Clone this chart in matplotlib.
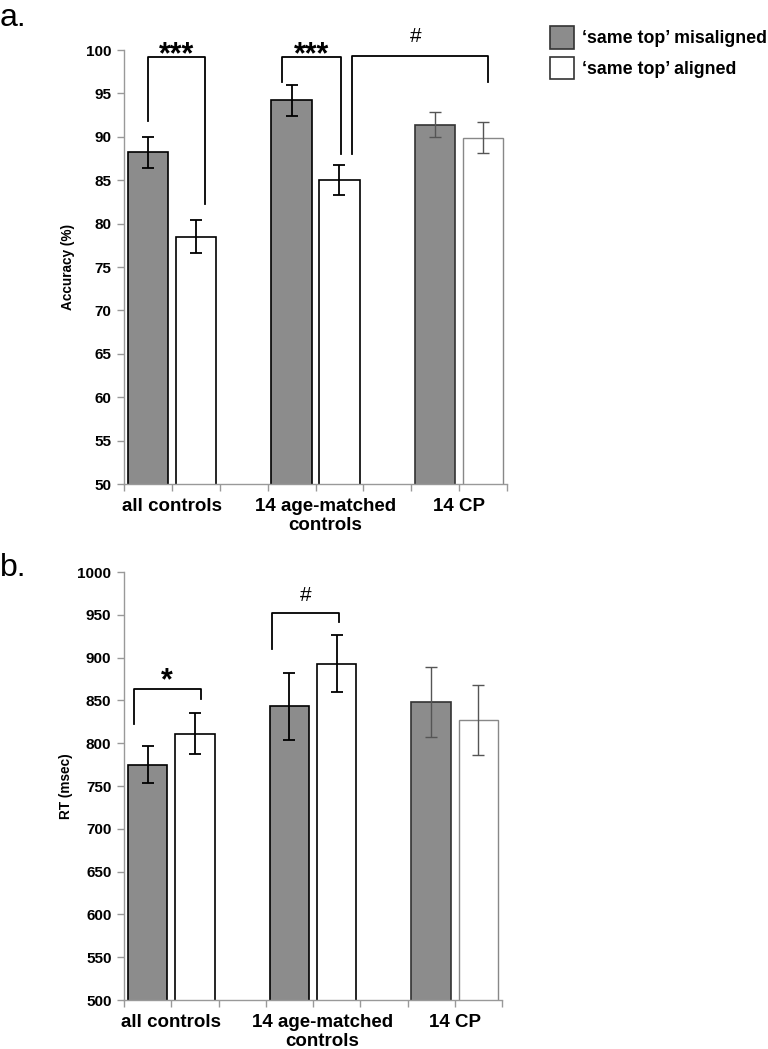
import matplotlib.pyplot as plt

plt.rcParams['font.family'] = ['Liberation Sans', 'DejaVu Sans']

groups = ['all controls', '14 age-matched\ncontrols', '14 CP']
legend_labels = ['\u2018same top\u2019 misaligned', '\u2018same top\u2019 aligned']

acc_mis = [88.2, 94.2, 91.4]
acc_mis_err = [1.75, 1.8, 1.4]
acc_ali = [78.5, 85.0, 89.9]
acc_ali_err = [1.9, 1.75, 1.75]

rt_mis = [775, 843, 848]
rt_mis_err = [22, 39, 41]
rt_ali = [811, 893, 827]
rt_ali_err = [24, 33, 41]

GREY = '#8c8c8c'
W = 768 / 100
H = 1049 / 100

fig = plt.figure(figsize=(W, H), dpi=100)


def px_axes(left, top, right, bottom):
    return fig.add_axes([left / 768, 1 - bottom / 1049, (right - left) / 768, (bottom - top) / 1049])


def draw_panel(ax, mis, mis_err, ali, ali_err, ylim, step):
    for i in range(3):
        xm = 3 * i
        xa = 3 * i + 1
        cp = i == 2
        ecol = '#555555' if cp else 'black'
        ax.bar(xm, mis[i], width=0.84, bottom=0, color=GREY, edgecolor='#333333' if cp else 'black',
               linewidth=1.2, zorder=2)
        ax.bar(xa, ali[i], width=0.84, bottom=0, color='white', edgecolor='#888888' if cp else 'black',
               linewidth=1.0 if cp else 1.2, zorder=2)
        ax.errorbar([xm, xa], [mis[i], ali[i]], yerr=[mis_err[i], ali_err[i]], fmt='none',
                    ecolor=ecol, elinewidth=1.0 if cp else 1.3, capsize=4, capthick=1.0 if cp else 1.3, zorder=3)
    ax.set_xlim(-0.5, 7.5)
    ax.set_ylim(*ylim)
    ax.set_yticks(range(ylim[0], ylim[1] + 1, step))
    ax.set_xticks([x - 0.5 for x in range(9)])
    ax.set_xticklabels([])
    for s in ['top', 'right']:
        ax.spines[s].set_visible(False)
    for s in ['left', 'bottom']:
        ax.spines[s].set_color('#999999')
        ax.spines[s].set_linewidth(1.0)
    ax.tick_params(axis='both', color='#999999', length=5, width=1.0)
    ax.tick_params(axis='y', labelsize=11, pad=4)
    for lab in ax.get_yticklabels():
        lab.set_fontweight('bold')
    label_x = [0.5, 3.7, 6.5]
    for x, g in zip(label_x, groups):
        ax.text(x, -0.033, g, transform=ax.get_xaxis_transform(), ha='center', va='top',
                fontsize=13.5, fontweight='bold', linespacing=1.15)


def bracket(ax, x0, x1, y0, y1, top, text, ty, fs):
    ax.plot([x0, x0, x1, x1], [y0, top, top, y1], color='black', lw=1.3, clip_on=False, zorder=4)
    ax.text((x0 + x1) / 2, ty, text, ha='center', va='center', fontsize=fs, fontweight='bold', clip_on=False)


ax1 = px_axes(124, 50, 507, 484)
draw_panel(ax1, acc_mis, acc_mis_err, acc_ali, acc_ali_err, (50, 100), 5)
ax1.set_ylabel('Accuracy (%)', fontsize=9.8, fontweight='bold', labelpad=8)
bracket(ax1, 0.0, 1.19, 91.85, 82.3, 99.23, '***', 99.4, 22)
bracket(ax1, 2.81, 4.03, 96.35, 88.0, 99.23, '***', 99.4, 22)
ax1.plot([4.27, 4.27, 7.1, 7.1], [88.0, 99.3, 99.3, 96.35], color='black', lw=1.3, clip_on=False, zorder=4)
ax1.text(5.6, 101.6, '#', ha='center', va='center', fontsize=15, clip_on=False)

ax2 = px_axes(124, 572, 502, 1000)
draw_panel(ax2, rt_mis, rt_mis_err, rt_ali, rt_ali_err, (500, 1000), 50)
ax2.set_ylabel('RT (msec)', fontsize=9.8, fontweight='bold', labelpad=3)
bracket(ax2, -0.29, 1.12, 822, 852, 863, '*', 872, 22)
ax2.plot([2.63, 2.63, 4.05, 4.05], [910, 952, 952, 942], color='black', lw=1.3, clip_on=False, zorder=4)
ax2.text(3.34, 972, '#', ha='center', va='center', fontsize=15, clip_on=False)

fig.text(0 / 768, 1 - 18 / 1049, 'a.', fontsize=23, ha='left', va='center')
fig.text(0 / 768, 1 - 568 / 1049, 'b.', fontsize=23, ha='left', va='center')

# legend
handles = [plt.Rectangle((0, 0), 1, 1, facecolor=GREY, edgecolor='#333333', linewidth=1.2),
           plt.Rectangle((0, 0), 1, 1, facecolor='white', edgecolor='#333333', linewidth=1.2)]
fig.legend(handles, legend_labels, loc='upper left', bbox_to_anchor=(538 / 768, 1 - 14 / 1049),
           frameon=False, prop={'weight': 'bold', 'size': 12.8}, handlelength=1.3, handleheight=1.55,
           handletextpad=0.45, labelspacing=0.45, borderpad=0.2)

fig.savefig('out.png', dpi=100)
